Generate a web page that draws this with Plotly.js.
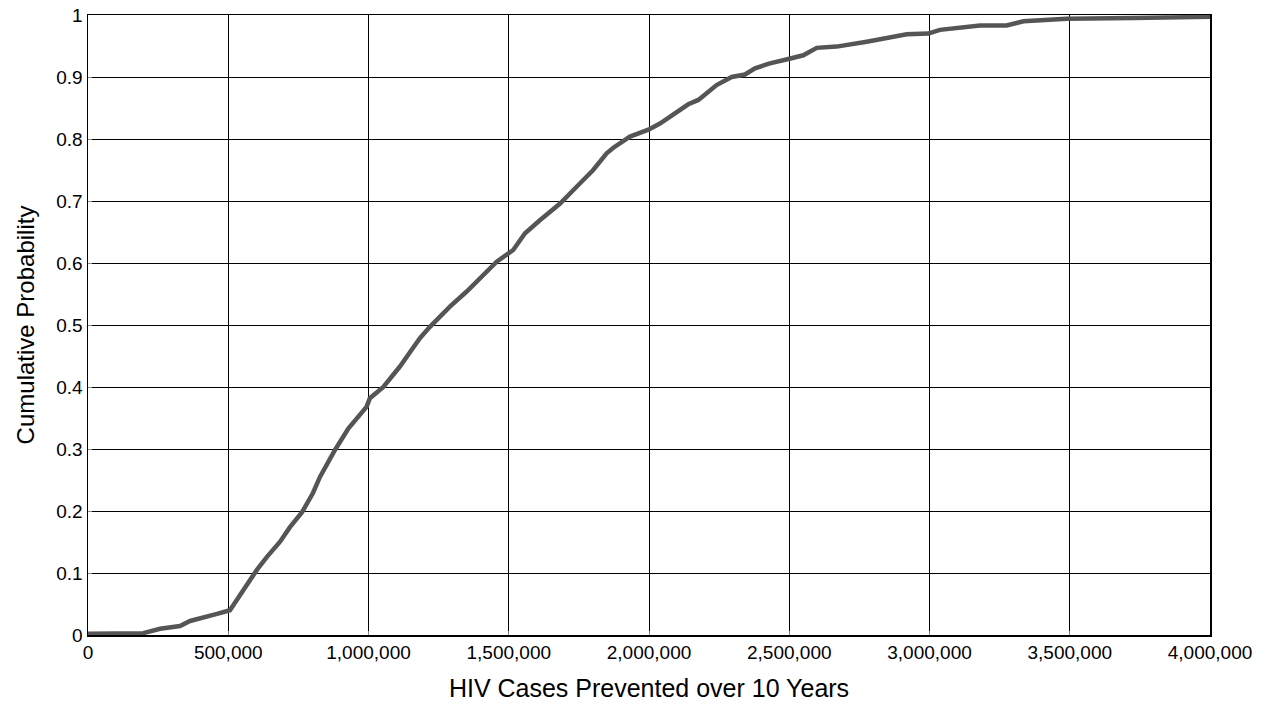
<!DOCTYPE html>
<html>
<head>
<meta charset="utf-8">
<script src="https://cdn.plot.ly/plotly-3.0.1.min.js"></script>
<style>html,body{margin:0;padding:0;background:#fff;}#chart{width:1270px;height:706px;}</style>
</head>
<body>
<div id="chart"></div>
<script>
const casesPrevented = [0, 100000, 197000, 257000, 328000, 364000, 424000, 460000, 506000, 553000, 602000, 638000, 684000, 720000, 763000, 802000, 827000, 880000, 928000, 993000, 1005000, 1053000, 1112000, 1154000, 1184000, 1219000, 1291000, 1350000, 1404000, 1457000, 1516000, 1558000, 1611000, 1683000, 1742000, 1801000, 1849000, 1873000, 1932000, 1998000, 2039000, 2087000, 2140000, 2176000, 2241000, 2295000, 2342000, 2378000, 2431000, 2497000, 2550000, 2598000, 2669000, 2776000, 2847000, 2919000, 2996000, 3037000, 3180000, 3275000, 3335000, 3489000, 3726000, 4000000];
const cumulativeProb = [0.002, 0.002, 0.003, 0.010, 0.0145, 0.0226, 0.029, 0.034, 0.040, 0.073, 0.105, 0.126, 0.150, 0.174, 0.198, 0.229, 0.255, 0.298, 0.333, 0.368, 0.382, 0.400, 0.433, 0.460, 0.479, 0.497, 0.530, 0.554, 0.578, 0.602, 0.621, 0.648, 0.669, 0.696, 0.723, 0.750, 0.777, 0.786, 0.804, 0.815, 0.825, 0.839, 0.856, 0.863, 0.887, 0.900, 0.904, 0.914, 0.922, 0.929, 0.935, 0.947, 0.949, 0.957, 0.963, 0.969, 0.970, 0.976, 0.983, 0.983, 0.990, 0.994, 0.995, 0.997];
const xTickVals = [0, 500000, 1000000, 1500000, 2000000, 2500000, 3000000, 3500000, 4000000];
const xTickText = ['0', '500,000', '1,000,000', '1,500,000', '2,000,000', '2,500,000', '3,000,000', '3,500,000', '4,000,000'];
const yTickVals = [0, 0.1, 0.2, 0.3, 0.4, 0.5, 0.6, 0.7, 0.8, 0.9, 1];
const yTickText = ['0', '0.1', '0.2', '0.3', '0.4', '0.5', '0.6', '0.7', '0.8', '0.9', '1'];
const xTitle = 'HIV Cases Prevented over 10 Years';
const yTitle = 'Cumulative Probability';

const font = {family: 'Arial, "Liberation Sans", sans-serif', color: '#000'};
Plotly.newPlot('chart', [{
  x: casesPrevented, y: cumulativeProb, type: 'scatter', mode: 'lines',
  line: {color: '#555555', width: 4.5}, hoverinfo: 'skip'
}], {
  width: 1270, height: 706,
  margin: {l: 88, r: 60, t: 15, b: 71},
  paper_bgcolor: '#fff', plot_bgcolor: '#fff',
  showlegend: false,
  font: Object.assign({size: 19}, font),
  xaxis: {
    range: [0, 4000000], tickvals: xTickVals, ticktext: xTickText,
    showgrid: true, gridcolor: '#000', gridwidth: 1,
    showline: true, linecolor: '#000', linewidth: 1.5, mirror: true,
    ticks: 'inside', ticklen: 4, tickcolor: '#888',
    zeroline: false, tickfont: Object.assign({size: 19}, font),
    title: {text: xTitle, font: Object.assign({size: 25}, font), standoff: 17}
  },
  yaxis: {
    range: [0, 1], tickvals: yTickVals, ticktext: yTickText,
    showgrid: true, gridcolor: '#000', gridwidth: 1,
    showline: true, linecolor: '#000', linewidth: 1.5, mirror: true,
    ticks: 'inside', ticklen: 4, tickcolor: '#888',
    zeroline: false, tickfont: Object.assign({size: 19}, font),
    title: {text: yTitle, font: Object.assign({size: 24}, font), standoff: 15}
  }
}, {staticPlot: true});
</script>
</body>
</html>
